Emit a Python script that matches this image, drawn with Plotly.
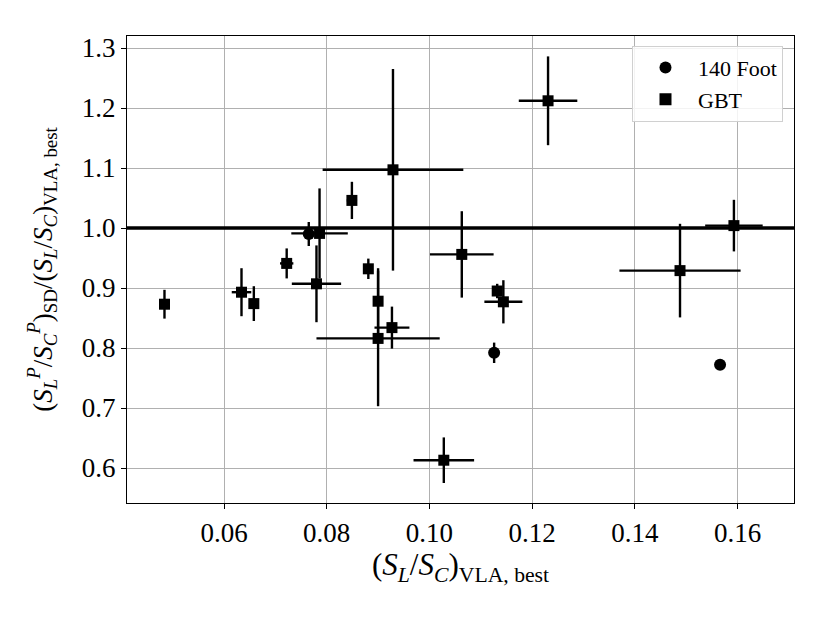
import plotly.graph_objects as go

# 140 Foot telescope points
foot_x = [0.0765, 0.1126, 0.1566]
foot_y = [0.990, 0.792, 0.772]
foot_xerr = [0.0, 0.0, 0.0]
foot_yerr = [0.020, 0.017, 0.0]

# GBT points
gbt_x = [0.0484, 0.0634, 0.0658, 0.0722, 0.0786, 0.0780, 0.0849, 0.0881,
         0.0929, 0.0900, 0.0900, 0.0927, 0.1028, 0.1063, 0.1132, 0.1144,
         0.1231, 0.1488, 0.1593]
gbt_y = [0.873, 0.893, 0.874, 0.941, 0.991, 0.907, 1.046, 0.932,
         1.097, 0.878, 0.816, 0.834, 0.613, 0.956, 0.895, 0.877,
         1.212, 0.929, 1.004]
gbt_xerr = [0.0010, 0.0019, 0.0008, 0.0013, 0.0055, 0.0048, 0.0010, 0.0008,
            0.0137, 0.0004, 0.0120, 0.0034, 0.0059, 0.0062, 0.0006, 0.0037,
            0.0057, 0.0118, 0.0056]
gbt_yerr = [0.024, 0.040, 0.029, 0.025, 0.075, 0.064, 0.031, 0.017,
            0.168, 0.055, 0.113, 0.035, 0.038, 0.072, 0.012, 0.036,
            0.074, 0.078, 0.043]

x_ticks = [0.06, 0.08, 0.10, 0.12, 0.14, 0.16]
y_ticks = [0.6, 0.7, 0.8, 0.9, 1.0, 1.1, 1.2, 1.3]
ref_line = 1.0

FONT = "Liberation Serif"
ebar = dict(type="data", symmetric=True, color="black", thickness=2.4, width=0)

fig = go.Figure()
fig.add_trace(go.Scatter(
    x=foot_x, y=foot_y, mode="markers", name="140 Foot", legendgroup="a",
    marker=dict(symbol="circle", size=12, color="black"),
    error_x=dict(array=foot_xerr, **ebar),
    error_y=dict(array=foot_yerr, **ebar),
))
fig.add_trace(go.Scatter(
    x=gbt_x, y=gbt_y, mode="markers", name="GBT", legendgroup="b",
    marker=dict(symbol="square", size=11, color="black"),
    error_x=dict(array=gbt_xerr, **ebar),
    error_y=dict(array=gbt_yerr, **ebar),
))
fig.add_hline(y=ref_line, line=dict(color="black", width=3.6), layer="above")

axis_common = dict(
    showgrid=True, gridcolor="#b0b0b0", gridwidth=1,
    showline=True, linecolor="black", linewidth=1.2, mirror=True,
    ticks="outside", ticklen=5, tickcolor="black", tickwidth=1,
    zeroline=False, tickfont=dict(family=FONT, size=27, color="black"),
)

fig.update_layout(
    width=830, height=623,
    margin=dict(l=119, r=44, t=28, b=128),
    paper_bgcolor="white", plot_bgcolor="white",
    font=dict(family=FONT, color="black"),
    showlegend=True,
    legend=dict(x=0.9835, y=0.979, xanchor="right", yanchor="top",
                bgcolor="rgba(255,255,255,0.85)", bordercolor="#d0d0d0",
                borderwidth=1, font=dict(family=FONT, size=22, color="black"),
                itemsizing="constant", itemwidth=55, tracegroupgap=0),
    xaxis=dict(range=[0.0411, 0.171], tickvals=x_ticks,
               ticktext=[f"{v:.2f}" for v in x_ticks],
               title=dict(text="(<i>S<sub>L</sub></i>/<i>S<sub>C</sub></i>)<sub>VLA, best</sub>",
                          font=dict(family=FONT, size=31), standoff=0),
               **axis_common),
    yaxis=dict(range=[0.5417, 1.32], tickvals=y_ticks,
               ticktext=[f"{v:.1f}" for v in y_ticks],
               title=dict(text="(<i>S<sub>L</sub><sup>P</sup></i>/<i>S<sub>C</sub><sup>P</sup></i>)<sub>SD</sub>/(<i>S<sub>L</sub></i>/<i>S<sub>C</sub></i>)<sub>VLA, best</sub>",
                          font=dict(family=FONT, size=27), standoff=21),
               **axis_common),
)

fig.write_html("out.html")
